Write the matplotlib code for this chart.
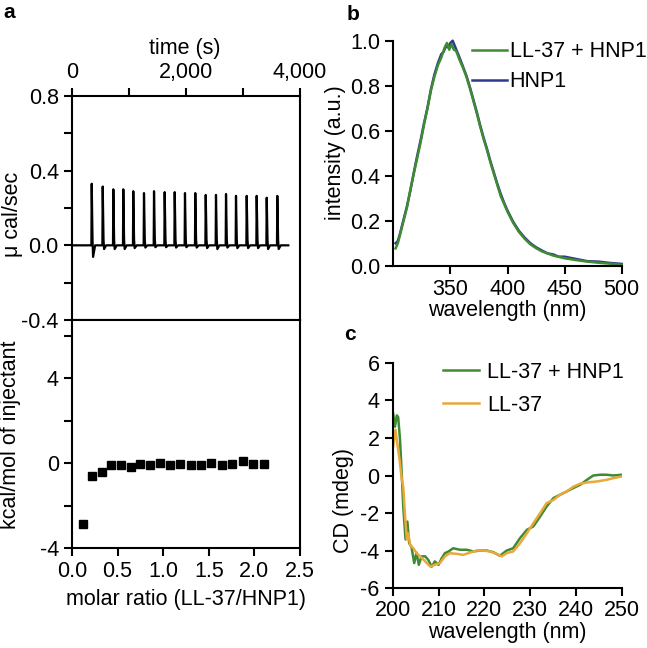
import matplotlib
matplotlib.use('Agg')
import matplotlib.pyplot as plt
from matplotlib.ticker import MultipleLocator, FixedLocator, FuncFormatter, FormatStrFormatter

plt.rcParams['font.family'] = ['Liberation Sans', 'DejaVu Sans']
plt.rcParams['axes.unicode_minus'] = False
FS = 15.5
plt.rcParams['font.size'] = FS

# ---------------- Data ----------------
# Panel a, upper: ITC raw heat-rate trace
inj_times = [346, 539, 725, 900, 1075, 1263, 1439, 1626, 1802, 1982,
             2163, 2346, 2526, 2702, 2877, 3065, 3240, 3416, 3602]
inj_peaks = [0.33, 0.315, 0.30, 0.30, 0.29, 0.28, 0.29, 0.285, 0.285, 0.28,
             0.28, 0.27, 0.27, 0.275, 0.265, 0.265, 0.265, 0.255, 0.265]
inj_dips = [-0.062, -0.02, -0.02, -0.02, -0.015, -0.012, -0.01, -0.01, -0.012, -0.01,
            -0.012, -0.015, -0.02, -0.012, -0.015, -0.015, -0.015, -0.02, -0.02]
trace_end = 3795

# Panel a, lower: integrated heats
molar_ratio = [0.117, 0.223, 0.325, 0.431, 0.537, 0.643, 0.749, 0.855, 0.965, 1.075,
               1.184, 1.30, 1.41, 1.52, 1.64, 1.75, 1.87, 1.99, 2.11]
heat = [-2.86, -0.60, -0.40, -0.11, -0.11, -0.16, -0.06, -0.10, 0.0, -0.10,
        -0.06, -0.08, -0.10, 0.03, -0.10, -0.02, 0.08, -0.03, -0.03]

# Panel b: fluorescence spectra
wl_mix = [302, 304, 306, 309, 312, 315, 318, 321, 324, 327, 330, 333, 336, 339, 342,
          345, 347, 349, 351, 353, 355, 358, 361, 364, 367, 370, 373, 376, 379, 382,
          385, 388, 391, 394, 397, 400, 405, 410, 415, 420, 425, 430, 440, 450, 460,
          470, 480, 490, 500]
int_mix = [0.077, 0.10, 0.14, 0.20, 0.26, 0.34, 0.41, 0.48, 0.55, 0.63, 0.70, 0.78,
           0.84, 0.89, 0.925, 0.97, 0.99, 0.96, 0.985, 0.96, 0.955, 0.915, 0.88, 0.84,
           0.79, 0.735, 0.68, 0.62, 0.565, 0.515, 0.46, 0.41, 0.36, 0.31, 0.275, 0.24,
           0.19, 0.15, 0.12, 0.095, 0.078, 0.064, 0.045, 0.033, 0.025, 0.018, 0.013,
           0.009, 0.004]
wl_hnp = [302, 304, 306, 309, 312, 315, 318, 321, 324, 327, 330, 333, 336, 339, 342,
          344, 346, 348, 350, 352, 354, 356, 358, 361, 364, 367, 370, 373, 376, 379,
          382, 385, 388, 391, 394, 397, 400, 405, 410, 415, 420, 425, 430, 435, 440,
          445, 450, 460, 470, 480, 490, 500]
int_hnp = [0.10, 0.11, 0.145, 0.205, 0.265, 0.335, 0.415, 0.49, 0.56, 0.635, 0.705,
           0.785, 0.85, 0.90, 0.94, 0.95, 0.975, 0.97, 0.99, 1.0, 0.975, 0.95, 0.925,
           0.885, 0.845, 0.795, 0.74, 0.685, 0.625, 0.57, 0.52, 0.465, 0.415, 0.365,
           0.32, 0.28, 0.245, 0.195, 0.155, 0.125, 0.10, 0.082, 0.068, 0.055, 0.05,
           0.04, 0.04, 0.03, 0.02, 0.018, 0.012, 0.008]

# Panel c: CD spectra
cd_wl_mix = [200.1, 200.5, 200.9, 201.2, 201.6, 202.0, 202.3, 202.8, 203.2, 203.6,
             204.1, 204.7, 205.2, 205.7, 206.3, 207.1, 207.8, 208.5, 209.2, 210.0,
             210.7, 211.4, 212.2, 213.2, 214.7, 216.2, 217.6, 219.1, 220.5, 222.0,
             223.4, 224.9, 226.3, 227.8, 229.3, 230.7, 232.2, 233.6, 235.1, 236.5,
             238.0, 239.4, 240.9, 242.4, 243.8, 245.3, 246.7, 248.2, 250.0]
cd_mix = [3.3, 2.6, 3.2, 3.1, 1.9, -0.05, -1.65, -3.4, -2.45, -3.6,
          -3.8, -4.66, -4.1, -4.75, -4.3, -4.3, -4.5, -4.85, -4.57, -4.75,
          -4.4, -4.13, -4.04, -3.87, -3.95, -3.95, -4.04, -3.99, -3.99, -4.08,
          -4.27, -3.99, -3.87, -3.33, -2.89, -2.71, -2.18, -1.65, -1.2, -1.03,
          -0.85, -0.67, -0.5, -0.23, 0.0, 0.04, 0.04, 0.0, 0.04]
cd_wl_ll = [200.1, 200.6, 201.0, 201.5, 202.0, 202.3, 202.7, 203.1, 203.4, 203.8,
            204.5, 205.2, 206.0, 207.1, 208.2, 209.2, 210.3, 211.4, 212.5, 214.0,
            215.4, 216.9, 218.3, 219.8, 221.3, 222.7, 223.8, 224.9, 226.3, 227.8,
            229.3, 230.7, 232.2, 233.6, 235.1, 236.5, 238.0, 239.4, 240.9, 242.4,
            244.5, 246.7, 248.2, 250.0]
cd_ll = [1.55, 2.43, 1.7, 0.83, -0.23, -0.6, -2.2, -3.4, -3.07, -3.7,
         -3.87, -4.13, -4.3, -4.57, -4.84, -4.75, -4.66, -4.3, -4.13, -4.17,
         -4.22, -4.1, -3.99, -3.99, -4.04, -4.17, -4.3, -4.13, -4.04, -3.6,
         -3.07, -2.54, -2.0, -1.47, -1.3, -1.03, -0.85, -0.6, -0.44, -0.37,
         -0.32, -0.23, -0.14, -0.05]

GREEN = '#3f8a32'
BLUE = '#2e3a8f'
ORANGE = '#e8a83a'

# ---------------- Figure ----------------
W, H = 647, 648
fig = plt.figure(figsize=(W / 100, H / 100), dpi=100)


def rect(x0, y0, x1, y1):
    return [x0 / W, 1 - y1 / H, (x1 - x0) / W, (y1 - y0) / H]


SPW = 1.5
tick_kw = dict(direction='out', length=6, width=SPW, labelsize=FS, color='black', pad=3.5)


def style(ax):
    for s in ax.spines.values():
        s.set_linewidth(SPW)
    ax.tick_params(which='both', **tick_kw)


# Panel a upper
ax1 = fig.add_axes(rect(72, 96, 300, 320))
t_trace = [0, inj_times[0] - 20]
y_trace = [0.0, 0.0]
for t, p, d in zip(inj_times, inj_peaks, inj_dips):
    t_trace += [t - 6, t, t + 14, t + 24, t + 60, t + 130]
    y_trace += [0.0, p, 0.03, d, 0.0, 0.0]
t_trace.append(trace_end)
y_trace.append(0.0)
ax1.plot(t_trace, y_trace, color='black', lw=1.6)
ax1.set_xlim(0, 4000)
ax1.set_ylim(-0.4, 0.8)
ax1.xaxis.tick_top()
ax1.xaxis.set_label_position('top')
ax1.xaxis.set_major_locator(FixedLocator([0, 2000, 4000]))
ax1.xaxis.set_minor_locator(FixedLocator([1000, 3000]))
ax1.xaxis.set_major_formatter(FuncFormatter(lambda v, p: f'{int(v):,}'))
ax1.yaxis.set_major_locator(MultipleLocator(0.4))
ax1.yaxis.set_minor_locator(MultipleLocator(0.2))
ax1.yaxis.set_major_formatter(FormatStrFormatter('%.1f'))
style(ax1)
ax1.set_xlabel('time (s)', fontsize=FS, va='center')
ax1.xaxis.set_label_coords(0.496, 1.214)
ax1.set_ylabel('μ cal/sec', fontsize=FS, va='center', ha='center')
ax1.yaxis.set_label_coords(-0.259, 0.473)

# Panel a lower
ax2 = fig.add_axes(rect(72, 320, 300, 548))
ax2.plot(molar_ratio, heat, 's', color='black', ms=5.5, clip_on=False)
ax2.set_xlim(0, 2.5)
ax2.set_ylim(-4, 6.75)
ax2.xaxis.set_major_locator(MultipleLocator(0.5))
ax2.xaxis.set_major_formatter(FormatStrFormatter('%.1f'))
ax2.yaxis.set_major_locator(FixedLocator([-4, 0, 4]))
ax2.yaxis.set_minor_locator(FixedLocator([-2, 2, 6]))
style(ax2)
ax2.set_xlabel('molar ratio (LL-37/HNP1)', fontsize=FS, va='center')
ax2.xaxis.set_label_coords(0.5, -0.228)
ax2.set_ylabel('kcal/mol of injectant', fontsize=FS, va='center', ha='center')
ax2.yaxis.set_label_coords(-0.268, 0.496)

# Panel b
ax3 = fig.add_axes(rect(393.3, 40.7, 621.7, 265.7))
ax3.plot(wl_hnp, int_hnp, color=BLUE, lw=1.8, label='HNP1', clip_on=False)
ax3.plot(wl_mix, int_mix, color=GREEN, lw=1.8, label='LL-37 + HNP1', clip_on=False)
ax3.set_xlim(300, 500)
ax3.set_ylim(0, 1.0)
ax3.xaxis.set_major_locator(FixedLocator([350, 400, 450, 500]))
ax3.yaxis.set_major_locator(MultipleLocator(0.2))
ax3.yaxis.set_major_formatter(FormatStrFormatter('%.1f'))
ax3.spines['top'].set_visible(False)
ax3.spines['right'].set_visible(False)
style(ax3)
ax3.set_xlabel('wavelength (nm)', fontsize=FS, va='center')
ax3.xaxis.set_label_coords(0.5, -0.2)
ax3.set_ylabel('intensity (a.u.)', fontsize=FS, va='center', ha='center')
ax3.yaxis.set_label_coords(-0.255, 0.503)
h, l = ax3.get_legend_handles_labels()
ax3.legend([h[1], h[0]], [l[1], l[0]], loc='upper left', bbox_to_anchor=(0.345, 0.997),
           frameon=False, borderpad=0, borderaxespad=0, handlelength=1.63,
           handletextpad=0.11, labelspacing=0.42, fontsize=FS)

# Panel c
ax4 = fig.add_axes(rect(392.7, 362.7, 621.7, 588.3))
ax4.plot(cd_wl_mix, cd_mix, color=GREEN, lw=1.8, label='LL-37 + HNP1')
ax4.plot(cd_wl_ll, cd_ll, color=ORANGE, lw=1.8, label='LL-37')
ax4.set_xlim(200, 250)
ax4.set_ylim(-6, 6)
ax4.xaxis.set_major_locator(MultipleLocator(10))
ax4.yaxis.set_major_locator(MultipleLocator(2))
ax4.spines['top'].set_visible(False)
ax4.spines['right'].set_visible(False)
style(ax4)
ax4.tick_params(axis='x', pad=2.5)
ax4.set_xlabel('wavelength (nm)', fontsize=FS, va='center')
ax4.xaxis.set_label_coords(0.5, -0.198)
ax4.set_ylabel('CD (mdeg)', fontsize=FS, va='center', ha='center')
ax4.yaxis.set_label_coords(-0.217, 0.39)
ax4.legend(loc='upper left', bbox_to_anchor=(0.22, 1.005), frameon=False, borderpad=0,
           borderaxespad=0, handlelength=1.67, handletextpad=0.36, labelspacing=0.57,
           fontsize=FS)

# Panel labels
fig.text(9 / W, 1 - 12 / H, 'a', fontsize=15, fontweight='bold', ha='center', va='center')
fig.text(353 / W, 1 - 14 / H, 'b', fontsize=15, fontweight='bold', ha='center', va='center')
fig.text(350 / W, 1 - 335 / H, 'c', fontsize=15, fontweight='bold', ha='center', va='center')

fig.savefig('out.png', dpi=100)
